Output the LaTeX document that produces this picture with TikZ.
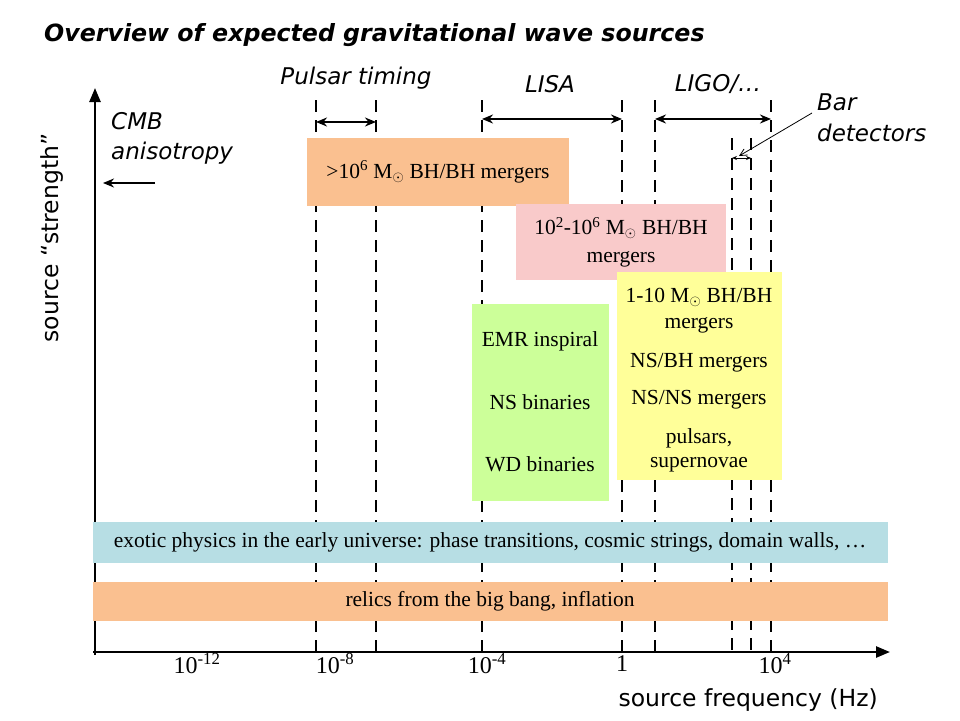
\documentclass[tikz,border=0pt]{standalone}
\usepackage{fontspec}
\setmainfont{Liberation Serif}
\newfontfamily\labelfont{DejaVu Sans}
\usetikzlibrary{arrows.meta}

\definecolor{peach}{RGB}{250,192,144}
\definecolor{rose}{RGB}{249,202,202}
\definecolor{lime}{RGB}{204,255,153}
\definecolor{lemon}{RGB}{255,255,153}
\definecolor{bandblue}{RGB}{183,222,228}

\tikzset{
  srcbox/.style={draw=none, inner sep=0pt, align=center,
    font=\fontsize{21.5}{24.5}\selectfont},
  detline/.style={line width=2.5pt, dash pattern=on 12pt off 8pt},
  spanarrow/.style={line width=2pt, {Stealth[length=11pt,width=9pt]}-{Stealth[length=11pt,width=9pt]}},
  lbl/.style={inner sep=0pt, font=\labelfont\itshape\fontsize{23}{26}\selectfont},
  axlbl/.style={inner sep=0pt, font=\labelfont\fontsize{23.5}{26}\selectfont},
  ticklbl/.style={inner sep=0pt, font=\fontsize{24}{28}\selectfont}
}

\begin{document}
\begin{tikzpicture}[x=1pt, y=-1pt]
    \useasboundingbox (0,0) rectangle (960,720);
    \fill[white] (0,0) rectangle (960,720);

    % Detector band edges
    \draw[detline] (316,100) to (316,652);
    \draw[detline] (376,100) to (376,652);
    \draw[detline] (482,100) to (482,652);
    \draw[detline] (622,100) to (622,652);
    \draw[detline] (655,100) to (655,652);
    \draw[detline] (732,138) to (732,652);
    \draw[detline] (751,138) to (751,652);
    \draw[detline] (771,100) to (771,652);

    % Axes
    \coordinate (origin) at (95,652);
    \coordinate (ytop) at (95,88);
    \coordinate (xend) at (890,652);
    \draw[line width=2.5pt, -{Triangle[length=14pt,width=11pt]}] (95,655) to (ytop);
    \draw[line width=2.5pt, -{Triangle[length=14pt,width=11pt]}] (93,652) to (xend);

    % Source boxes
    \node[srcbox, fill=peach, minimum width=262, minimum height=68] (smbh) at (438,172)
        {>10\textsuperscript{6} M$_\odot$ BH/BH mergers};
    \node[srcbox, fill=rose, minimum width=210, minimum height=76] (imbh) at (621,242)
        {10\textsuperscript{2}-10\textsuperscript{6} M$_\odot$ BH/BH\\[3pt] mergers};
    \node[srcbox, fill=lime, minimum width=137, minimum height=197] (wd) at (540,402)
        {EMR inspiral\\[38pt] NS binaries\\[38pt] WD binaries};
    \node[srcbox, fill=lemon, minimum width=165, minimum height=208] (stellar) at (699,376) {};
    \node[srcbox] (stellartxt) at (699,380)
        {1-10 M$_\odot$ BH/BH\\[1pt] mergers\\[15pt] NS/BH mergers\\[12pt] NS/NS mergers\\[15pt]
         pulsars,\\[-1pt] supernovae};
    \node[srcbox, fill=bandblue, minimum width=795, minimum height=41] (exotic) at (490,542)
        {exotic physics in the early universe: phase transitions, cosmic strings, domain walls, \dots};
    \node[srcbox, fill=peach, minimum width=795, minimum height=39] (relics) at (490,601)
        {relics from the big bang, inflation};

    % Detector ranges
    \coordinate (ptL) at (316,122);
    \coordinate (ptR) at (376,122);
    \draw[spanarrow] (ptL) to (ptR);
    \coordinate (lisaL) at (482,119);
    \coordinate (lisaR) at (622,119);
    \draw[spanarrow] (lisaL) to (lisaR);
    \coordinate (ligoL) at (655,119);
    \coordinate (ligoR) at (771,119);
    \draw[spanarrow] (ligoL) to (ligoR);
    \coordinate (barL) at (732,158);
    \coordinate (barR) at (751,158);
    \draw[line width=0.8pt, {Stealth[length=5pt,width=4pt]}-{Stealth[length=5pt,width=4pt]}] (barL) to (barR);

    % Labels
    \node[anchor=west, inner sep=0pt, font=\labelfont\bfseries\itshape\fontsize{23.7}{27}\selectfont]
        (title) at (44,35) {Overview of expected gravitational wave sources};
    \node[lbl] (pulsar) at (356,78) {Pulsar timing};
    \node[lbl] (lisa) at (550,84) {LISA};
    \node[lbl] (ligo) at (718,84) {LIGO/\dots};
    \node[lbl, anchor=west] (bar) at (817,102) {Bar};
    \node[lbl, anchor=west] (barb) at (817,133) {detectors};
    \node[lbl, anchor=west] (cmb) at (111,121) {CMB};
    \node[lbl, anchor=west] (cmbb) at (111,153) {anisotropy};
    \coordinate (cmbR) at (155,183);
    \coordinate (cmbL) at (103,183);
    \draw[line width=2pt, -{Stealth[length=11pt,width=9pt]}] (cmbR) to (cmbL);
    \coordinate (barptr) at (812,113);
    \coordinate (bartip) at (739,156);
    \draw[line width=0.8pt, -{Straight Barb[length=7pt,width=7pt]}] (barptr) to (bartip);

    % Axis labels
    \node[axlbl, rotate=90] (ylbl) at (52,238) {source “strength”};
    \node[axlbl, anchor=east] (xlbl) at (878,700) {source frequency (Hz)};
    \node[ticklbl] (t1) at (197,664) {10\textsuperscript{-12}};
    \node[ticklbl] (t2) at (335,664) {10\textsuperscript{-8}};
    \node[ticklbl] (t3) at (487,664) {10\textsuperscript{-4}};
    \node[ticklbl] (t4) at (622,664) {1};
    \node[ticklbl] (t5) at (775,664) {10\textsuperscript{4}};
\end{tikzpicture}
\end{document}
